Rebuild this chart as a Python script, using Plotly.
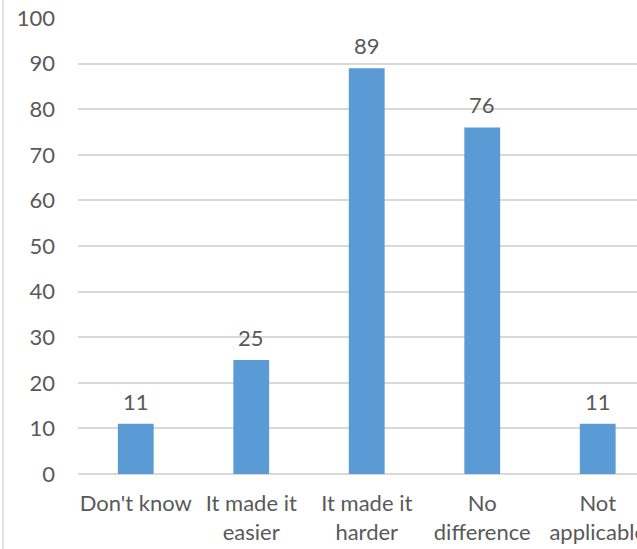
import plotly.graph_objects as go

categories = ["Don't know", "It made it<br>easier", "It made it<br>harder", "No<br>difference", "Not<br>applicable"]
values = [11, 25, 89, 76, 11]
y_ticks = [0, 10, 20, 30, 40, 50, 60, 70, 80, 90, 100]

FONT = "Lato"
GREY = "#595959"
FS = 22

fig = go.Figure(go.Bar(
    x=categories,
    y=values,
    width=0.31,
    marker=dict(color="#5B9BD5", line=dict(width=0)),
    cliponaxis=False,
    hoverinfo="skip",
))

for c, v in zip(categories, values):
    fig.add_annotation(x=c, y=v, text=str(v), showarrow=False,
                       yanchor="bottom", yshift=7,
                       font=dict(family=FONT, size=FS, color=GREY))

fig.update_layout(
    width=637,
    height=549,
    margin=dict(l=78, r=0, t=18, b=75, autoexpand=False),
    paper_bgcolor="white",
    plot_bgcolor="white",
    showlegend=False,
    font=dict(family=FONT, size=FS, color=GREY),
    shapes=[dict(type="line", xref="paper", yref="paper",
                 x0=-75/559, x1=-75/559, y0=-2, y1=2,
                 line=dict(color="#D9D9D9", width=1.5))],
)
fig.update_xaxes(
    type="category",
    range=[-0.5, 4.34],
    automargin=False,
    showgrid=False,
    showline=False,
    ticks="",
    ticklabelstandoff=14,
    ticklabeloverflow="allow",
    tickfont=dict(family=FONT, size=FS, color=GREY),
)
fig.update_yaxes(
    range=[0, 100],
    tickvals=y_ticks,
    automargin=False,
    showgrid=True,
    gridcolor="#D9D9D9",
    gridwidth=1.5,
    zeroline=True,
    zerolinecolor="#D9D9D9",
    zerolinewidth=1.5,
    showline=False,
    ticks="",
    ticklabelstandoff=22,
    tickfont=dict(family=FONT, size=FS, color=GREY),
)

fig.write_html("out.html",
               config={"displayModeBar": False},
               post_script="document.body.style.margin='0';document.body.style.overflow='hidden';")
